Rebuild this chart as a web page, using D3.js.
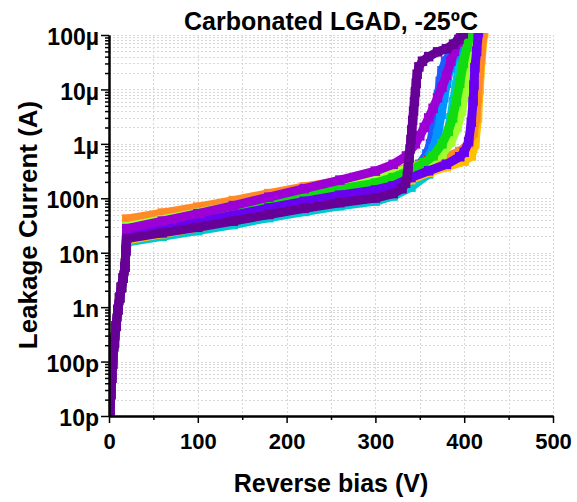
<!DOCTYPE html>
<html>
<head>
<meta charset="utf-8">
<script src="https://cdn.jsdelivr.net/npm/d3@7"></script>
<style>
  body { margin: 0; background: #fff; }
  text { font-family: "Liberation Sans", Arial, sans-serif; font-weight: bold; fill: #000; }
</style>
</head>
<body>
<div id="chart"></div>
<script>
// drawing order: first drawn lies underneath
const seriesColors = ['#00c8d0', '#ffc000', '#1f5cff', '#0096ff', '#e00000', '#ff8a26',
                      '#a0ff30', '#10dc10', '#6a00f0', '#9c00d4', '#660096'];

// common turn-on part of every curve (V, A)
const riseV = [1, 2, 3, 4, 6, 8, 10, 12, 14, 16, 18, 19];
const riseI = [1e-11, 2.5e-11, 5e-11, 9e-11, 2.2e-10, 4.5e-10, 9e-10, 1.5e-9, 2.3e-9, 3.4e-9, 5.5e-9, 1.1e-8];

// plateau, one row per series
const plateauV = [20, 60, 100, 140, 180, 220, 260, 300];
const plateauI = [
  [1.57e-8, 2.00e-8, 2.54e-8, 3.30e-8, 4.40e-8, 5.73e-8, 7.29e-8, 8.88e-8],
  [1.71e-8, 2.24e-8, 2.94e-8, 3.94e-8, 5.39e-8, 7.23e-8, 9.50e-8, 1.20e-7],
  [2.11e-8, 2.79e-8, 3.67e-8, 4.96e-8, 6.83e-8, 9.24e-8, 1.22e-7, 1.54e-7],
  [2.29e-8, 3.03e-8, 3.99e-8, 5.39e-8, 7.44e-8, 1.01e-7, 1.32e-7, 1.68e-7],
  [2.61e-8, 3.50e-8, 4.71e-8, 6.47e-8, 9.07e-8, 1.25e-7, 1.67e-7, 2.16e-7],
  [4.15e-8, 5.35e-8, 6.89e-8, 9.08e-8, 1.22e-7, 1.61e-7, 2.07e-7, 2.56e-7],
  [3.02e-8, 4.03e-8, 5.37e-8, 7.32e-8, 1.01e-7, 1.38e-7, 1.84e-7, 2.35e-7],
  [2.50e-8, 3.32e-8, 4.40e-8, 5.97e-8, 8.30e-8, 1.13e-7, 1.49e-7, 1.90e-7],
  [2.20e-8, 2.85e-8, 3.70e-8, 4.89e-8, 6.64e-8, 8.79e-8, 1.14e-7, 1.42e-7],
  [2.78e-8, 3.81e-8, 5.24e-8, 7.35e-8, 1.05e-7, 1.50e-7, 2.16e-7, 3.16e-7],
  [1.82e-8, 2.31e-8, 2.93e-8, 3.80e-8, 5.04e-8, 6.54e-8, 8.30e-8, 1.01e-7]
];

// breakdown part, one row per series
const tailV = [
  [320, 340, 360, 375, 381, 385, 388, 391, 394, 398, 402, 405],
  [320, 340, 360, 380, 400, 408, 412, 415, 417, 419, 422],
  [320, 340, 350, 358, 362, 366, 369, 371, 373, 375, 379, 385, 391, 397],
  [320, 340, 355, 365, 370, 374, 377, 380, 384, 389, 395, 400],
  [320, 340, 360, 375, 385, 392, 398, 404, 409],
  [320, 340, 360, 380, 395, 405, 410, 413, 415, 417, 419, 421],
  [320, 340, 360, 375, 385, 392, 397, 401, 405, 408, 411],
  [320, 340, 355, 365, 375, 382, 387, 391, 395, 399, 403, 407],
  [320, 340, 360, 380, 395, 400, 405, 408, 410, 411, 412, 414, 416],
  [320, 335, 345, 350, 355, 360, 365, 370, 375, 380, 385, 389, 393, 396],
  [320, 330, 334, 336, 337, 338, 339, 340, 341, 342, 343, 344, 345, 346, 347, 349, 353, 360, 370, 380, 388, 394, 399]
];
const tailI = [
  [1.1e-7, 1.6e-7, 2.8e-7, 7e-7, 1.5e-6, 3e-6, 6e-6, 1.2e-5, 2.4e-5, 4.5e-5, 7.5e-5, 1.05e-4],
  [1.5e-7, 2.2e-7, 3e-7, 3.8e-7, 4.8e-7, 6e-7, 1e-6, 3e-6, 1e-5, 3.5e-5, 1.1e-4],
  [1.9e-7, 3.1e-7, 4.2e-7, 6.5e-7, 1e-6, 2.2e-6, 4.5e-6, 8e-6, 1.4e-5, 2.2e-5, 3.3e-5, 4.8e-5, 7e-5, 1.05e-4],
  [2e-7, 3e-7, 4.5e-7, 8e-7, 1.5e-6, 3.5e-6, 7e-6, 1.3e-5, 2.5e-5, 4e-5, 6.5e-5, 1.05e-4],
  [2.6e-7, 3.4e-7, 5e-7, 9e-7, 2e-6, 5e-6, 1.4e-5, 4e-5, 1.05e-4],
  [3.1e-7, 3.8e-7, 4.6e-7, 5.7e-7, 7.2e-7, 1e-6, 1.6e-6, 3e-6, 7e-6, 2e-5, 5e-5, 1.05e-4],
  [2.9e-7, 3.6e-7, 4.6e-7, 6.5e-7, 1.1e-6, 2e-6, 4e-6, 9e-6, 2e-5, 4.5e-5, 1.05e-4],
  [2.4e-7, 3.3e-7, 4.5e-7, 6e-7, 1e-6, 1.7e-6, 3e-6, 6e-6, 1.3e-5, 3e-5, 6e-5, 1.05e-4],
  [1.7e-7, 2.4e-7, 3.2e-7, 4.2e-7, 5.8e-7, 7e-7, 1.1e-6, 2.5e-6, 6e-6, 1.2e-5, 2.5e-5, 5e-5, 1.1e-4],
  [4.2e-7, 6e-7, 1e-6, 1.4e-6, 2e-6, 3e-6, 4.5e-6, 7e-6, 1.1e-5, 1.8e-5, 3.3e-5, 5e-5, 7.5e-5, 1.05e-4],
  [1.22e-7, 1.5e-7, 1.9e-7, 2.6e-7, 3.8e-7, 5.5e-7, 8e-7, 1.2e-6, 1.8e-6, 2.7e-6, 4e-6, 6e-6, 9e-6, 1.3e-5, 1.9e-5, 2.6e-5, 3.3e-5, 4e-5, 4.9e-5, 5.6e-5, 6.8e-5, 8.3e-5, 1.05e-4]
];

const xMajor = [0, 100, 200, 300, 400, 500];
const xMinor = [50, 150, 250, 350, 450];
const yMajor = [1e-11, 1e-10, 1e-9, 1e-8, 1e-7, 1e-6, 1e-5, 1e-4];
const yLabels = ['10p', '100p', '1n', '10n', '100n', '1µ', '10µ', '100µ'];

const width = 577, height = 502;
const margin = {top: 35, right: 24, bottom: 86, left: 109};
const innerW = width - margin.left - margin.right;
const innerH = height - margin.top - margin.bottom;

const svg = d3.select('#chart').append('svg')
    .attr('width', width)
    .attr('height', height);

const g = svg.append('g')
    .attr('transform', `translate(${margin.left},${margin.top})`);

const x = d3.scaleLinear().domain([0, 500]).range([0, innerW]);
const y = d3.scaleLog().domain([1e-11, 1e-4]).range([innerH, 0]);

// minor values for the log axis
const yMinor = [];
yMajor.slice(0, -1).forEach(d => {
  for (let k = 2; k <= 9; k++) yMinor.push(d * k);
});

// grid
const grid = g.append('g').attr('class', 'grid')
    .attr('stroke', '#d8d8d8').attr('stroke-width', 1).attr('stroke-dasharray', '2,2');
grid.selectAll('.hy').data(yMajor.concat(yMinor)).enter().append('line')
    .attr('x1', 0).attr('x2', innerW)
    .attr('y1', d => Math.round(y(d)) + 0.5).attr('y2', d => Math.round(y(d)) + 0.5);
grid.selectAll('.vx').data(xMajor.concat(xMinor)).enter().append('line')
    .attr('y1', 0).attr('y2', innerH)
    .attr('x1', d => Math.round(x(d)) + 0.5).attr('x2', d => Math.round(x(d)) + 0.5);

svg.append('defs').append('clipPath').attr('id', 'plot-clip')
  .append('rect').attr('x', 0).attr('y', -2).attr('width', innerW).attr('height', innerH + 2);

const line = d3.line().x(d => x(d[0])).y(d => y(d[1]));
const square = d3.symbol().type(d3.symbolSquare).size(90);

const curves = g.append('g').attr('clip-path', 'url(#plot-clip)');

seriesColors.forEach((color, k) => {
  const pts = riseV.map((v, i) => [v, riseI[i]])
    .concat(plateauV.map((v, i) => [v, plateauI[k][i]]))
    .concat(tailV[k].map((v, i) => [v, tailI[k][i]]));

  const s = curves.append('g');
  s.append('path')
      .datum(pts)
      .attr('fill', 'none')
      .attr('stroke', color)
      .attr('stroke-width', 9)
      .attr('stroke-linejoin', 'round')
      .attr('d', line);
  s.selectAll('path.pt').data(pts).enter().append('path')
      .attr('class', 'pt')
      .attr('fill', color)
      .attr('transform', d => `translate(${x(d[0])},${y(d[1])})`)
      .attr('d', square);
});

// axes
const yAxis = g.append('g')
    .call(d3.axisLeft(y).tickValues(yMajor).tickFormat((d, i) => yLabels[i]).tickSize(8).tickSizeOuter(0).tickPadding(2));
g.append('g')
    .call(d3.axisLeft(y).tickValues(yMinor).tickFormat('').tickSize(4).tickSizeOuter(0));

const xAxis = g.append('g')
    .attr('transform', `translate(0,${innerH})`)
    .call(d3.axisBottom(x).tickValues(xMajor).tickSize(7).tickSizeOuter(0).tickPadding(10));
g.append('g')
    .attr('transform', `translate(0,${innerH})`)
    .call(d3.axisBottom(x).tickValues(xMinor).tickFormat('').tickSize(4).tickSizeOuter(0));

g.selectAll('.domain').attr('stroke', '#000').attr('stroke-width', 2);
g.selectAll('.tick line').attr('stroke', '#000').attr('stroke-width', 1.5);
g.selectAll('.tick text')
    .style('font-family', '"Liberation Sans", Arial, sans-serif')
    .style('font-weight', 'bold')
    .style('font-size', '22px')
    .attr('fill', '#000');
yAxis.selectAll('.tick text').attr('dy', '0.42em').style('font-size', '23px');

// titles
svg.append('text')
    .attr('x', margin.left + innerW / 2)
    .attr('y', 30)
    .attr('text-anchor', 'middle')
    .style('font-size', '25px')
    .text('Carbonated LGAD, -25ºC');

svg.append('text')
    .attr('x', margin.left + innerW / 2)
    .attr('y', 492)
    .attr('text-anchor', 'middle')
    .style('font-size', '25px')
    .text('Reverse bias (V)');

svg.append('text')
    .attr('transform', 'translate(37,225) rotate(-90)')
    .attr('text-anchor', 'middle')
    .style('font-size', '26px')
    .text('Leakage Current (A)');
</script>
</body>
</html>
